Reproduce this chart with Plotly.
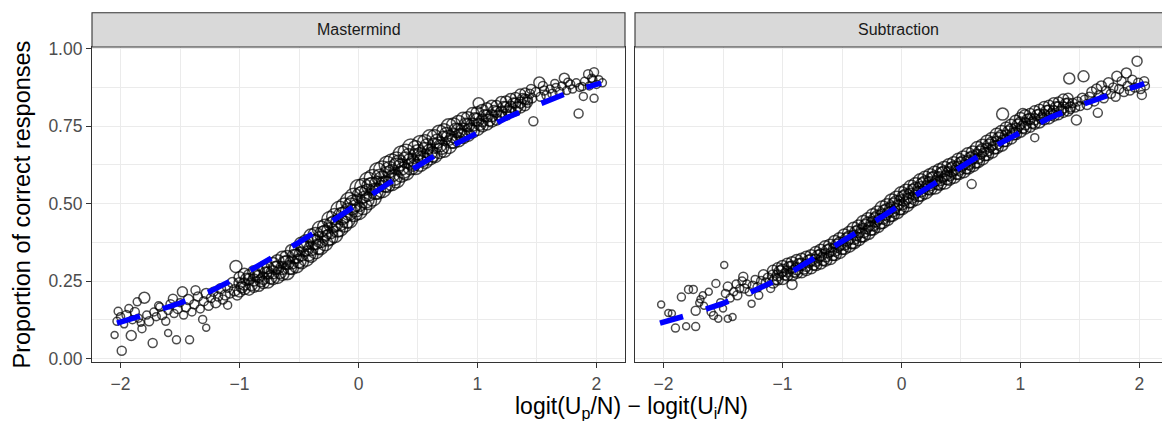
import plotly.graph_objects as go

# ---------------- data ----------------
panels = ["Mastermind", "Subtraction"]
x_ticks = [-2, -1, 0, 1, 2]
x_tick_text = ["\u22122", "\u22121", "0", "1", "2"]
y_ticks = [0, 0.25, 0.5, 0.75, 1.0]
y_tick_text = ["0.00", "0.25", "0.50", "0.75", "1.00"]

# ---- Mastermind: dense central band (x, lower / middle / upper points, size)
mm_band_x = [
    -1.00, -0.96, -0.92, -0.88, -0.84, -0.80, -0.76, -0.72, -0.68, -0.64,
    -0.60, -0.56, -0.52, -0.48, -0.44, -0.40, -0.36, -0.32, -0.28, -0.24,
    -0.20, -0.16, -0.12, -0.08, -0.04, 0.00, 0.04, 0.08, 0.12, 0.16,
    0.20, 0.24, 0.28, 0.32, 0.36, 0.40, 0.44, 0.48, 0.52, 0.56,
    0.60, 0.64, 0.68, 0.72, 0.76, 0.80, 0.84, 0.88, 0.92, 0.96,
    1.00, 1.04, 1.08, 1.12, 1.16, 1.20, 1.24, 1.28, 1.32, 1.36,
    1.40,
]
mm_band_lo = [
    0.216, 0.226, 0.222, 0.233, 0.236, 0.245, 0.247, 0.259, 0.263, 0.273,
    0.277, 0.292, 0.299, 0.312, 0.322, 0.333, 0.346, 0.361, 0.372, 0.392,
    0.400, 0.421, 0.434, 0.448, 0.470, 0.476, 0.492, 0.508, 0.520, 0.540,
    0.547, 0.562, 0.570, 0.577, 0.595, 0.602, 0.619, 0.618, 0.630, 0.638,
    0.649, 0.656, 0.670, 0.672, 0.686, 0.701, 0.706, 0.717, 0.722, 0.733,
    0.741, 0.751, 0.757, 0.767, 0.771, 0.782, 0.787, 0.796, 0.800, 0.810,
    0.816,
]
mm_band_mid = [
    0.243, 0.240, 0.256, 0.253, 0.265, 0.259, 0.276, 0.278, 0.294, 0.292,
    0.310, 0.310, 0.330, 0.337, 0.356, 0.354, 0.376, 0.384, 0.406, 0.412,
    0.436, 0.440, 0.464, 0.474, 0.500, 0.502, 0.530, 0.535, 0.558, 0.562,
    0.576, 0.593, 0.598, 0.621, 0.618, 0.641, 0.637, 0.653, 0.655, 0.673,
    0.667, 0.687, 0.691, 0.711, 0.713, 0.719, 0.735, 0.737, 0.753, 0.755,
    0.771, 0.768, 0.783, 0.784, 0.796, 0.796, 0.811, 0.812, 0.825, 0.826,
    0.837,
]
mm_band_hi = [
    0.262, 0.272, 0.269, 0.280, 0.281, 0.293, 0.293, 0.305, 0.314, 0.325,
    0.326, 0.347, 0.352, 0.369, 0.375, 0.395, 0.399, 0.418, 0.425, 0.449,
    0.458, 0.480, 0.492, 0.508, 0.522, 0.550, 0.554, 0.574, 0.583, 0.606,
    0.610, 0.627, 0.633, 0.641, 0.660, 0.666, 0.683, 0.679, 0.694, 0.698,
    0.714, 0.714, 0.729, 0.735, 0.750, 0.754, 0.762, 0.772, 0.776, 0.789,
    0.792, 0.801, 0.806, 0.814, 0.815, 0.828, 0.830, 0.838, 0.843, 0.852,
    0.857,
]
mm_band_n = [
    11, 12, 11, 12, 12, 12, 12, 13, 13, 13,
    14, 13, 14, 14, 15, 14, 15, 16, 15, 16,
    16, 17, 16, 17, 17, 17, 17, 17, 17, 16,
    17, 16, 17, 16, 16, 16, 16, 15, 16, 15,
    15, 15, 15, 14, 15, 14, 14, 14, 13, 13,
    13, 12, 12, 12, 11, 11, 11, 11, 10, 11,
    10,
]
# ---- Mastermind: in-between points of the band
mm_fill_x = [
    -0.98, -0.94, -0.90, -0.86, -0.82, -0.78, -0.74, -0.70, -0.66, -0.62,
    -0.58, -0.54, -0.50, -0.46, -0.42, -0.38, -0.34, -0.30, -0.26, -0.22,
    -0.18, -0.14, -0.10, -0.06, -0.02, 0.02, 0.06, 0.10, 0.14, 0.18,
    0.22, 0.26, 0.30, 0.34, 0.38, 0.42, 0.46, 0.50, 0.54, 0.58,
    0.62, 0.66, 0.70, 0.74, 0.78, 0.82, 0.86, 0.90, 0.94, 0.98,
    1.02, 1.06, 1.10, 1.14, 1.18, 1.22, 1.26, 1.30, 1.34, 1.38,
    1.42,
]
mm_fill_y = [
    0.230, 0.256, 0.239, 0.267, 0.251, 0.276, 0.262, 0.292, 0.279, 0.309,
    0.294, 0.329, 0.315, 0.353, 0.339, 0.375, 0.361, 0.401, 0.389, 0.431,
    0.418, 0.460, 0.449, 0.491, 0.485, 0.526, 0.513, 0.555, 0.540, 0.585,
    0.563, 0.610, 0.585, 0.631, 0.608, 0.653, 0.629, 0.666, 0.644, 0.685,
    0.659, 0.701, 0.682, 0.723, 0.701, 0.737, 0.722, 0.755, 0.739, 0.772,
    0.756, 0.784, 0.770, 0.799, 0.784, 0.812, 0.799, 0.825, 0.813, 0.839,
    0.827,
]
mm_fill_n = [
    11, 12, 12, 12, 12, 12, 13, 13, 13, 13,
    14, 14, 14, 15, 15, 15, 15, 16, 16, 16,
    16, 17, 17, 17, 17, 17, 17, 17, 16, 16,
    16, 16, 16, 16, 16, 15, 15, 15, 15, 15,
    15, 14, 14, 14, 14, 14, 13, 13, 13, 13,
    12, 12, 12, 11, 11, 11, 11, 10, 10, 10,
    10,
]
# ---- Mastermind: sparse tails and outlying points
mm_x = [
    -2.05, -2.03, -2.02, -2.00, -1.99, -1.97, -1.95, -1.93, -1.91, -1.90,
    -1.88, -1.86, -1.85, -1.83, -1.82, -1.80, -1.78, -1.76, -1.73, -1.72,
    -1.70, -1.68, -1.67, -1.65, -1.62, -1.60, -1.60, -1.58, -1.56, -1.55,
    -1.53, -1.52, -1.50, -1.48, -1.47, -1.45, -1.43, -1.42, -1.40, -1.38,
    -1.37, -1.35, -1.33, -1.31, -1.30, -1.28, -1.28, -1.26, -1.24, -1.22,
    -1.20, -1.18, -1.16, -1.14, -1.12, -1.10, -1.10, -1.08, -1.06, -1.04,
    -1.03, -1.02, 1.01, 1.42, 1.44, 1.46, 1.47, 1.49, 1.52, 1.53,
    1.56, 1.58, 1.61, 1.63, 1.66, 1.69, 1.71, 1.73, 1.75, 1.78,
    1.80, 1.83, 1.85, 1.86, 1.89, 1.90, 1.93, 1.94, 1.97, 1.98,
    1.98, 2.00, 2.02, 2.05, 1.45, 1.55, 1.65, 1.76, 1.88, 1.96,
]
mm_y = [
    0.076, 0.120, 0.152, 0.135, 0.025, 0.110, 0.140, 0.161, 0.074, 0.125,
    0.150, 0.183, 0.130, 0.115, 0.096, 0.196, 0.140, 0.120, 0.050, 0.150,
    0.135, 0.170, 0.166, 0.140, 0.120, 0.082, 0.155, 0.175, 0.193, 0.145,
    0.060, 0.160, 0.180, 0.215, 0.140, 0.165, 0.190, 0.060, 0.150, 0.175,
    0.220, 0.200, 0.160, 0.126, 0.185, 0.099, 0.210, 0.170, 0.195, 0.215,
    0.180, 0.200, 0.225, 0.190, 0.205, 0.172, 0.230, 0.210, 0.245, 0.220,
    0.297, 0.205, 0.824, 0.835, 0.855, 0.840, 0.766, 0.860, 0.891, 0.845,
    0.865, 0.850, 0.870, 0.855, 0.875, 0.860, 0.880, 0.905, 0.865, 0.885,
    0.870, 0.890, 0.791, 0.875, 0.846, 0.895, 0.918, 0.880, 0.900, 0.924,
    0.840, 0.885, 0.900, 0.890, 0.870, 0.880, 0.888, 0.892, 0.878, 0.905,
]
mm_n = [
    7, 8, 8, 8, 9, 7, 9, 8, 10, 8,
    9, 8, 8, 7, 8, 11, 8, 9, 9, 8,
    8, 8, 8, 9, 8, 7, 8, 9, 9, 8,
    8, 9, 8, 10, 8, 9, 10, 8, 8, 9,
    9, 9, 8, 8, 9, 7, 10, 9, 9, 9,
    10, 9, 10, 9, 10, 8, 10, 9, 10, 11,
    12, 10, 11, 10, 9, 9, 9, 9, 11, 9,
    9, 9, 8, 9, 8, 9, 8, 10, 8, 9,
    8, 8, 9, 8, 8, 8, 9, 8, 8, 9,
    8, 8, 8, 8, 9, 9, 8, 8, 8, 8,
]

# ---- Subtraction: dense central band
sb_band_x = [
    -1.08, -1.04, -1.00, -0.96, -0.92, -0.88, -0.84, -0.80, -0.76, -0.72,
    -0.68, -0.64, -0.60, -0.56, -0.52, -0.48, -0.44, -0.40, -0.36, -0.32,
    -0.28, -0.24, -0.20, -0.16, -0.12, -0.08, -0.04, 0.00, 0.04, 0.08,
    0.12, 0.16, 0.20, 0.24, 0.28, 0.32, 0.36, 0.40, 0.44, 0.48,
    0.52, 0.56, 0.60, 0.64, 0.68, 0.72, 0.76, 0.80, 0.84, 0.88,
    0.92, 0.96, 1.00, 1.04, 1.08, 1.12, 1.16, 1.20, 1.24, 1.28,
    1.32, 1.36, 1.40,
]
sb_band_lo = [
    0.245, 0.255, 0.258, 0.268, 0.270, 0.278, 0.280, 0.287, 0.293, 0.303,
    0.308, 0.319, 0.324, 0.337, 0.344, 0.357, 0.364, 0.377, 0.385, 0.399,
    0.407, 0.421, 0.429, 0.444, 0.452, 0.467, 0.475, 0.488, 0.497, 0.511,
    0.518, 0.532, 0.539, 0.550, 0.555, 0.566, 0.571, 0.582, 0.588, 0.600,
    0.606, 0.618, 0.624, 0.638, 0.646, 0.660, 0.668, 0.682, 0.690, 0.704,
    0.712, 0.726, 0.734, 0.744, 0.748, 0.758, 0.762, 0.772, 0.775, 0.784,
    0.787, 0.796, 0.799,
]
sb_band_mid = [
    0.268, 0.268, 0.285, 0.281, 0.295, 0.290, 0.304, 0.301, 0.318, 0.317,
    0.334, 0.333, 0.350, 0.351, 0.370, 0.371, 0.390, 0.391, 0.411, 0.413,
    0.433, 0.435, 0.455, 0.458, 0.478, 0.481, 0.501, 0.504, 0.523, 0.525,
    0.544, 0.546, 0.565, 0.564, 0.581, 0.580, 0.597, 0.596, 0.614, 0.614,
    0.632, 0.632, 0.650, 0.652, 0.672, 0.674, 0.694, 0.696, 0.716, 0.718,
    0.738, 0.740, 0.760, 0.758, 0.774, 0.772, 0.788, 0.786, 0.801, 0.798,
    0.813, 0.810, 0.825,
]
sb_band_hi = [
    0.283, 0.291, 0.297, 0.306, 0.309, 0.316, 0.320, 0.327, 0.332, 0.342,
    0.349, 0.359, 0.364, 0.376, 0.385, 0.397, 0.405, 0.417, 0.426, 0.439,
    0.448, 0.461, 0.470, 0.484, 0.493, 0.507, 0.516, 0.530, 0.538, 0.551,
    0.559, 0.572, 0.580, 0.590, 0.596, 0.606, 0.612, 0.622, 0.629, 0.640,
    0.647, 0.658, 0.665, 0.678, 0.687, 0.700, 0.709, 0.722, 0.731, 0.744,
    0.753, 0.766, 0.775, 0.784, 0.789, 0.798, 0.803, 0.812, 0.816, 0.824,
    0.828, 0.836, 0.840,
]
sb_band_n = [
    11, 11, 12, 11, 12, 12, 12, 12, 12, 12,
    12, 13, 13, 13, 13, 13, 13, 14, 13, 14,
    14, 14, 14, 15, 14, 15, 15, 15, 15, 15,
    15, 15, 15, 14, 15, 14, 15, 14, 14, 14,
    14, 14, 13, 14, 13, 13, 13, 13, 13, 12,
    12, 12, 12, 12, 11, 11, 11, 11, 11, 11,
    10, 11, 10,
]
# ---- Subtraction: in-between points of the band
sb_fill_x = [
    -1.06, -1.02, -0.98, -0.94, -0.90, -0.86, -0.82, -0.78, -0.74, -0.70,
    -0.66, -0.62, -0.58, -0.54, -0.50, -0.46, -0.42, -0.38, -0.34, -0.30,
    -0.26, -0.22, -0.18, -0.14, -0.10, -0.06, -0.02, 0.02, 0.06, 0.10,
    0.14, 0.18, 0.22, 0.26, 0.30, 0.34, 0.38, 0.42, 0.46, 0.50,
    0.54, 0.58, 0.62, 0.66, 0.70, 0.74, 0.78, 0.82, 0.86, 0.90,
    0.94, 0.98, 1.02, 1.06, 1.10, 1.14, 1.18, 1.22, 1.26, 1.30,
    1.34, 1.38, 1.42,
]
sb_fill_y = [
    0.256, 0.280, 0.271, 0.294, 0.282, 0.303, 0.292, 0.314, 0.305, 0.330,
    0.321, 0.346, 0.337, 0.364, 0.357, 0.384, 0.377, 0.404, 0.398, 0.426,
    0.420, 0.448, 0.442, 0.471, 0.465, 0.494, 0.488, 0.517, 0.510, 0.538,
    0.531, 0.559, 0.552, 0.577, 0.568, 0.593, 0.584, 0.609, 0.601, 0.627,
    0.619, 0.645, 0.637, 0.665, 0.659, 0.687, 0.681, 0.709, 0.703, 0.731,
    0.725, 0.753, 0.747, 0.771, 0.761, 0.785, 0.775, 0.799, 0.788, 0.811,
    0.800, 0.823, 0.812,
]
sb_fill_n = [
    11, 12, 11, 12, 12, 12, 12, 12, 12, 12,
    13, 13, 13, 13, 13, 13, 14, 14, 14, 14,
    14, 14, 15, 15, 15, 15, 15, 15, 15, 15,
    15, 15, 14, 15, 14, 15, 14, 14, 14, 14,
    14, 13, 14, 13, 13, 13, 13, 13, 12, 12,
    12, 12, 12, 11, 11, 11, 11, 11, 11, 11,
    10, 10, 10,
]
# ---- Subtraction: sparse tails and outlying points
sb_x = [
    -2.02, -1.96, -1.93, -1.90, -1.85, -1.81, -1.79, -1.75, -1.73, -1.73,
    -1.70, -1.69, -1.67, -1.66, -1.62, -1.60, -1.58, -1.56, -1.54, -1.52,
    -1.50, -1.49, -1.48, -1.46, -1.46, -1.44, -1.42, -1.41, -1.39, -1.38,
    -1.36, -1.34, -1.33, -1.32, -1.30, -1.28, -1.26, -1.25, -1.23, -1.21,
    -1.20, -1.18, -1.16, -1.14, -1.12, -1.10, -0.92, 0.59, 0.85, 1.02,
    1.12, 1.41, 1.42, 1.44, 1.46, 1.47, 1.48, 1.50, 1.53, 1.54,
    1.56, 1.58, 1.60, 1.62, 1.64, 1.65, 1.66, 1.68, 1.70, 1.72,
    1.74, 1.76, 1.78, 1.80, 1.81, 1.83, 1.85, 1.87, 1.89, 1.90,
    1.92, 1.94, 1.96, 1.98, 1.99, 2.01, 2.02, 2.04, 2.05, 1.52,
]
sb_y = [
    0.174, 0.147, 0.145, 0.098, 0.198, 0.104, 0.223, 0.223, 0.103, 0.154,
    0.180, 0.191, 0.204, 0.170, 0.215, 0.150, 0.139, 0.242, 0.128, 0.180,
    0.161, 0.302, 0.210, 0.232, 0.128, 0.195, 0.134, 0.215, 0.240, 0.204,
    0.225, 0.250, 0.264, 0.226, 0.240, 0.215, 0.177, 0.235, 0.255, 0.230,
    0.204, 0.250, 0.270, 0.245, 0.260, 0.226, 0.239, 0.563, 0.789, 0.789,
    0.713, 0.904, 0.805, 0.825, 0.810, 0.770, 0.830, 0.815, 0.911, 0.835,
    0.820, 0.845, 0.860, 0.830, 0.870, 0.793, 0.850, 0.880, 0.840, 0.865,
    0.890, 0.855, 0.875, 0.845, 0.911, 0.870, 0.895, 0.860, 0.922, 0.880,
    0.865, 0.900, 0.875, 0.960, 0.890, 0.870, 0.851, 0.895, 0.880, 0.840,
]
sb_n = [
    7, 7, 7, 8, 8, 7, 8, 8, 8, 9,
    7, 7, 7, 7, 7, 8, 8, 8, 7, 8,
    7, 7, 8, 9, 7, 8, 7, 8, 8, 9,
    8, 8, 9, 9, 8, 8, 7, 9, 8, 9,
    8, 9, 10, 9, 10, 8, 10, 9, 12, 11,
    8, 11, 9, 9, 9, 10, 9, 9, 11, 9,
    10, 9, 10, 9, 10, 9, 9, 10, 9, 9,
    10, 9, 9, 9, 10, 9, 9, 9, 10, 9,
    9, 9, 9, 10, 9, 9, 9, 9, 8, 10,
]

# fitted (dashed blue) curves
fit_x = [-2.03, -2.0, -1.75, -1.5, -1.25, -1.0, -0.75, -0.5, -0.25, 0.0,
         0.25, 0.5, 0.75, 1.0, 1.25, 1.5, 1.75, 2.0, 2.04]
mm_fit = [0.114, 0.118, 0.147, 0.179, 0.216, 0.265, 0.319, 0.375, 0.436, 0.500,
          0.565, 0.622, 0.680, 0.728, 0.778, 0.818, 0.856, 0.885, 0.889]
sb_fit = [0.114, 0.117, 0.145, 0.178, 0.217, 0.262, 0.320, 0.376, 0.436, 0.499,
          0.558, 0.618, 0.678, 0.730, 0.778, 0.817, 0.852, 0.882, 0.888]

# ---------------- figure ----------------
FONT = "Liberation Sans, Arial, Helvetica, sans-serif"
GRID = "#EBEBEB"
BORDER = "#333333"

datasets = [
    (mm_band_x, [mm_band_lo, mm_band_mid, mm_band_hi], mm_band_n,
     mm_fill_x, mm_fill_y, mm_fill_n, mm_x, mm_y, mm_n, mm_fit),
    (sb_band_x, [sb_band_lo, sb_band_mid, sb_band_hi], sb_band_n,
     sb_fill_x, sb_fill_y, sb_fill_n, sb_x, sb_y, sb_n, sb_fit),
]

fig = go.Figure()
for i, (bx, rows, bn, fx, fyv, fn, tx, ty, tn, fit_y) in enumerate(datasets):
    xa = "x" if i == 0 else "x2"
    ya = "y" if i == 0 else "y2"
    px = list(tx) + list(fx)
    py = list(ty) + list(fyv)
    pn = list(tn) + list(fn)
    for r in rows:
        px += bx
        py += r
        pn += bn
    fig.add_trace(go.Scatter(
        x=px, y=py, mode="markers", xaxis=xa, yaxis=ya,
        marker=dict(symbol="circle-open", size=pn, color="black", line=dict(width=1.5, color="black")),
        showlegend=False, hoverinfo="skip"))
    fig.add_trace(go.Scatter(
        x=fit_x, y=fit_y, mode="lines", xaxis=xa, yaxis=ya,
        line=dict(color="#0000FF", width=5.5, dash="24px,24px"),
        showlegend=False, hoverinfo="skip"))

W, H = 1162, 421
L, R, T, B = 92, 0, 47, 59
plot_w = W - L - R
left_end = (625 - L) / plot_w
right_start = (635 - L) / plot_w
px_per_unit = (625 - 92) / 4.48
right_max = -2.24 + (1162 - 635) / px_per_unit

axis_common = dict(
    showgrid=True, gridcolor=GRID, gridwidth=1.1, zeroline=False,
    ticks="outside", ticklen=5, tickwidth=1.1, tickcolor=BORDER,
    tickfont=dict(family=FONT, size=17.5, color="#4D4D4D"),
    showline=True, linecolor=BORDER, linewidth=1.1,
)
xminor = dict(tickvals=[-1.5, -0.5, 0.5, 1.5], showgrid=True, gridcolor=GRID, gridwidth=0.55, ticks="")
yminor = dict(tickvals=[0.125, 0.375, 0.625, 0.875], showgrid=True, gridcolor=GRID, gridwidth=0.55, ticks="")

fig.update_layout(
    width=W, height=H,
    margin=dict(l=L, r=R, t=T, b=B),
    paper_bgcolor="white", plot_bgcolor="white",
    font=dict(family=FONT),
    xaxis=dict(domain=[0, left_end], range=[-2.24, 2.24], tickvals=x_ticks, ticktext=x_tick_text,
               mirror=True, minor=xminor, ticklabelstandoff=1, **axis_common),
    xaxis2=dict(domain=[right_start, 1], range=[-2.24, right_max], tickvals=x_ticks, ticktext=x_tick_text,
                mirror=True, minor=xminor, anchor="y2", ticklabelstandoff=1, **axis_common),
    yaxis=dict(domain=[0, 1], range=[-0.0115, 1.0057], tickvals=y_ticks, ticktext=y_tick_text,
               mirror=True, minor=yminor, **axis_common),
    yaxis2=dict(domain=[0, 1], range=[-0.0115, 1.0057], tickvals=y_ticks, ticktext=y_tick_text,
                showticklabels=False, minor=yminor, anchor="x2", matches="y",
                **{**axis_common, "ticks": ""}),
)

strip_top = (H - B - 12.7) / (H - T - B)
for i, name in enumerate(panels):
    xr = "x domain" if i == 0 else "x2 domain"
    fig.add_shape(type="rect", xref=xr, yref="paper", x0=0, x1=1 if i == 0 else 1.05,
                  y0=1.0, y1=strip_top, fillcolor="#D9D9D9",
                  line=dict(color=BORDER, width=1.1), layer="above")
    fig.add_annotation(xref=xr, yref="paper", x=0.5, y=(1 + strip_top) / 2, text=name,
                       showarrow=False, xanchor="center", yanchor="middle",
                       font=dict(family=FONT, size=16, color="#1A1A1A"))

fig.add_annotation(xref="paper", yref="paper", x=(631 - L) / plot_w, y=-(407 - (H - B)) / (H - T - B),
                   text="logit(U<sub>p</sub>/N) \u2212 logit(U<sub>i</sub>/N)", showarrow=False,
                   xanchor="center", yanchor="middle", font=dict(family=FONT, size=23, color="black"))
fig.add_annotation(xref="paper", yref="paper", x=-(L - 21) / plot_w, y=0.5,
                   text="Proportion of correct responses", showarrow=False, textangle=-90,
                   xanchor="center", yanchor="middle", font=dict(family=FONT, size=23.5, color="black"))

fig.write_html("out.html", config={"displayModeBar": False},
               post_script="document.body.style.margin='0px';")
